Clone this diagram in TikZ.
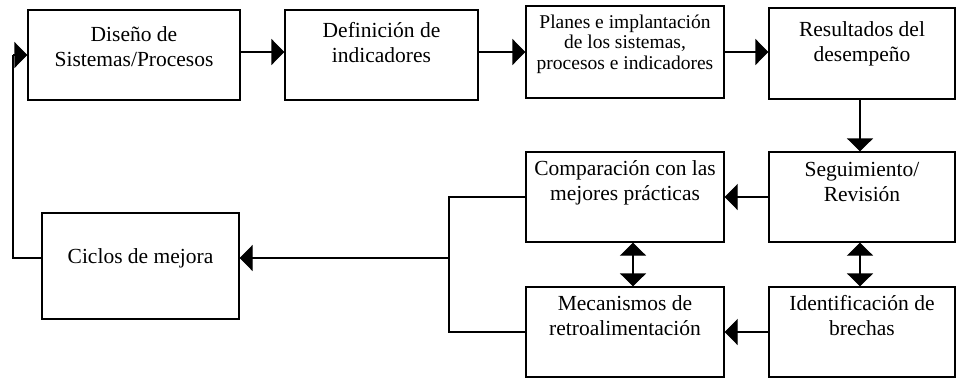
\documentclass[tikz,border=0pt]{standalone}
\usepackage{fontspec}
\setmainfont{Liberation Serif}
\usetikzlibrary{arrows.meta}
\begin{document}
\begin{tikzpicture}[x=1pt,y=-1pt,
  box/.style={draw,line width=1.2pt,inner sep=0pt},
  txt/.style={align=center,inner sep=0pt,anchor=base,font=\fontsize{21.5}{25}\selectfont},
  small/.style={align=center,inner sep=0pt,anchor=base,font=\fontsize{19.5}{20.5}\selectfont},
  conn/.style={line width=1.2pt},
  arr/.style={line width=1.2pt,-{Triangle[length=13pt,width=26pt]}},
  darr/.style={line width=1.2pt,{Triangle[length=13pt,width=26pt]}-{Triangle[length=13pt,width=26pt]}}]
\useasboundingbox (0,0) rectangle (956,378);
% boxes
\node[box,minimum width=212pt,minimum height=90pt] (b1) at (134,55) {};
\node[box,minimum width=193pt,minimum height=90pt] (b2) at (381.5,55) {};
\node[box,minimum width=198pt,minimum height=92pt] (b3) at (625,52) {};
\node[box,minimum width=186pt,minimum height=91pt] (b4) at (862,53.5) {};
\node[box,minimum width=186pt,minimum height=90pt] (b5) at (862,197) {};
\node[box,minimum width=198pt,minimum height=90pt] (b6) at (625,197) {};
\node[box,minimum width=198pt,minimum height=90pt] (b7) at (625,332) {};
\node[box,minimum width=186pt,minimum height=90pt] (b8) at (862,332) {};
\node[box,minimum width=197pt,minimum height=106pt] (b9) at (140.5,266) {};
% texts (anchor = baseline of last line)
\node[txt] (t1) at (134,66) {Diseño de\\Sistemas/Procesos};
\node[txt] (t2) at (381.5,62) {Definición de\\indicadores};
\node[small] (t3) at (625,69) {Planes e  implantación\\de los sistemas,\\procesos e indicadores};
\node[txt] (t4) at (862,61) {Resultados del\\desempeño};
\node[txt] (t5) at (862,201) {Seguimiento/\\Revisión};
\node[txt] (t6) at (625,200) {Comparación con las\\mejores prácticas};
\node[txt] (t7) at (625,335) {Mecanismos de\\retroalimentación};
\node[txt] (t8) at (862,335) {Identificación de\\brechas};
\node[txt] (t9) at (140.5,263) {Ciclos de mejora};
% coordinates
\coordinate (j1) at (449,197);
\coordinate (j2) at (449,332);
\coordinate (j3) at (449,258);
\coordinate (l1) at (13,258);
\coordinate (l2) at (13,55);
% connectors
\draw[arr] (b1.east |- 0,52) -- (b2.west |- 0,52);
\draw[arr] (b2.east |- 0,52) -- (b3.west |- 0,52);
\draw[arr] (b3.east |- 0,52) -- (b4.west |- 0,52);
\draw[arr] (b4.south -| 860,0) -- (b5.north -| 860,0);
\draw[arr] (b5.west) -- (b6.east);
\draw[arr] (b8.west) -- (b7.east);
\draw[darr] (b6.south -| 633,0) -- (b7.north -| 633,0);
\draw[darr] (b5.south -| 860,0) -- (b8.north -| 860,0);
\draw[conn] (b6.west) -- (j1) -- (j2) -- (b7.west);
\draw[arr] (j3) -- (b9.east |- j3);
\draw[conn] (b9.west |- j3) -- (l1) -- (l2);
\draw[arr] (l2) -- (b1.west |- l2);
\end{tikzpicture}
\end{document}
